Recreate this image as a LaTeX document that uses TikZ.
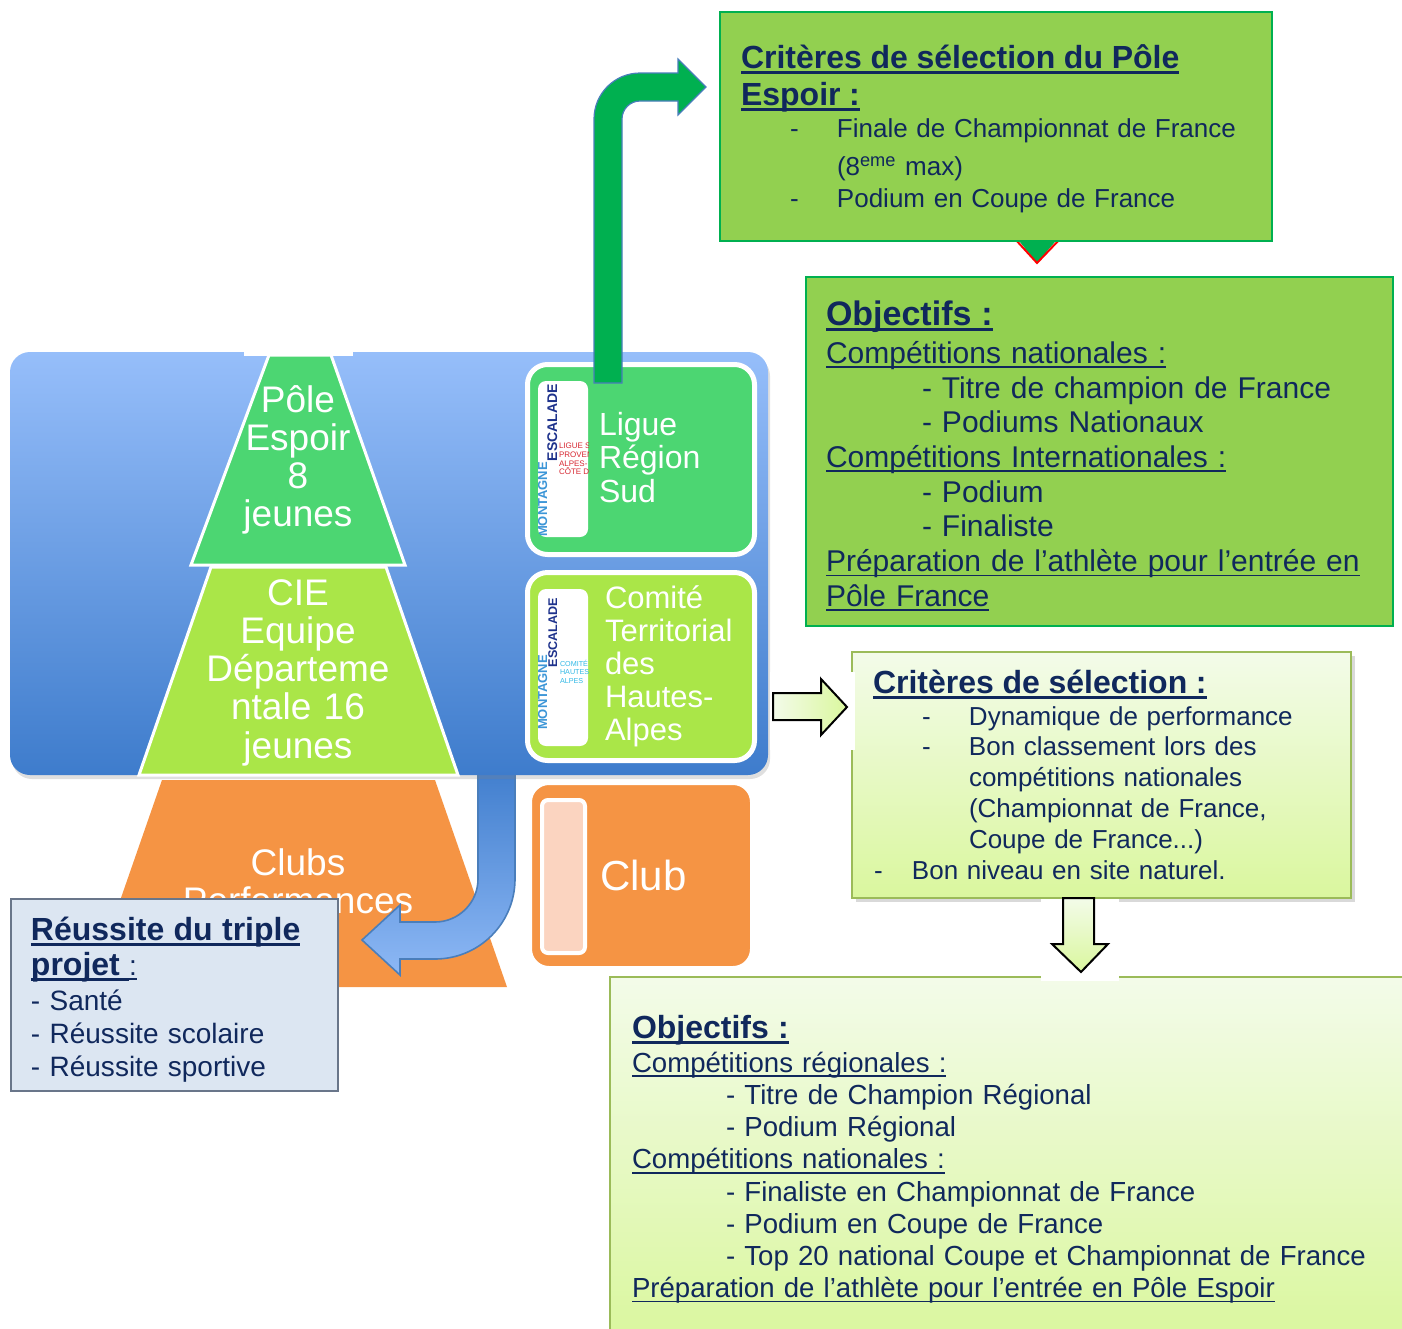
\documentclass[tikz,border=0pt]{standalone}
\usepackage{fontspec}
\setmainfont{Liberation Sans}
\usetikzlibrary{positioning,shadows}

\definecolor{navy}{RGB}{16,40,92}
\definecolor{espoirgreen}{RGB}{76,214,114}
\definecolor{ciegreen}{RGB}{170,230,72}
\definecolor{cluborange}{RGB}{245,148,68}
\definecolor{clubpale}{RGB}{251,212,192}
\definecolor{polegreen}{RGB}{146,208,80}
\definecolor{darkgreen}{RGB}{0,176,80}
\definecolor{oliveline}{RGB}{155,187,89}
\definecolor{palegreen}{RGB}{243,251,233}
\definecolor{limegreen}{RGB}{218,247,158}
\definecolor{skytop}{RGB}{150,190,250}
\definecolor{skybottom}{RGB}{62,124,204}
\definecolor{skylight}{RGB}{141,184,245}
\definecolor{arrowline}{RGB}{74,126,187}
\definecolor{greyblue}{RGB}{220,230,242}
\definecolor{slate}{RGB}{105,118,138}
\definecolor{escblue}{RGB}{30,50,140}
\definecolor{montblue}{RGB}{60,150,215}
\definecolor{liguered}{RGB}{215,40,50}
\definecolor{comitecyan}{RGB}{50,185,230}

\newsavebox{\ulsave}
\newcommand{\ulbox}[3]{\leavevmode\sbox{\ulsave}{#3}\rlap{\rule[-#1]{\wd\ulsave}{#2}}\usebox{\ulsave}}
\newcommand{\ulhead}[1]{\ulbox{3.2pt}{1.5pt}{#1}}
\newcommand{\ulline}[1]{\ulbox{2.4pt}{0.9pt}{#1}}
\newcommand{\tiret}[2]{\hspace*{#1}\makebox[#2][l]{-}}
\newcommand{\headfont}[1]{\fontsize{#1}{#1}\selectfont\bfseries}
\lineskiplimit=-20pt

\begin{document}
\begin{tikzpicture}[x=0.5pt, y=-0.5pt,
    every node/.style={inner sep=0pt, outer sep=0pt},
    fedbox/.style={anchor=north west, rounded corners=10pt, top color=skytop,
        bottom color=skybottom, drop shadow={opacity=0.25, shadow xshift=1pt, shadow yshift=-2pt}},
    pyrtxt/.style={text=white, font=\fontsize{18.5}{19.15}\selectfont, text width=130pt,
        align=center, anchor=base},
    orgbox/.style={anchor=north west, draw=white, line width=2.5pt, rounded corners=10pt,
        minimum width=113.5pt},
    orgtxt/.style={text=white, text width=80pt, align=left, anchor=base west},
    logo/.style={anchor=north west, fill=white, rounded corners=4pt, minimum width=25pt},
    polebox/.style={anchor=north west, draw=darkgreen, line width=1pt, fill=polegreen},
    selbox/.style={anchor=north west, draw=oliveline, line width=1pt, top color=palegreen,
        bottom color=limegreen, drop shadow={opacity=0.3, shadow xshift=2pt, shadow yshift=-2pt}},
    boxtxt/.style={text=navy, text width=330pt, align=left, anchor=base west},
    hollow/.style={draw=black, line width=1pt}]

    \useasboundingbox (0,0) rectangle (1402,1328);

    % clubs, foot of the pyramid
    \fill[cluborange] (162,780) -- (435,780) -- (507,987) -- (90,987) -- cycle;
    \node[pyrtxt] (clubsPerf) at (298,875) {Clubs\\Performances};

    % arrow down to the triple project
    \draw[arrowline, line width=0.8pt, top color=skybottom, bottom color=skylight]
        (478,760) -- (478,879) .. controls (478,902.7) and (458.7,922) .. (435,922)
        -- (400,922) -- (400,905) -- (362,940) -- (400,975) -- (400,959) -- (435,959)
        .. controls (479.2,959) and (515,923.2) .. (515,879) -- (515,760) -- cycle;

    % federal block
    \node[fedbox, minimum width=379pt, minimum height=211.5pt] (fed) at (10,352) {};
    \fill[white] (244,350) rectangle (353,356);

    \draw[white, line width=1.5pt, fill=espoirgreen] (269,355) -- (331,355) -- (405,565) -- (191,565) -- cycle;
    \draw[white, line width=1.5pt, fill=ciegreen] (211,567) -- (386,567) -- (458,775) -- (139,775) -- cycle;
    \node[pyrtxt] (espoir) at (298,412) {Pôle\\Espoir\\8\\jeunes};
    \node[pyrtxt] (cie) at (298,605) {CIE\\Equipe\\Départeme\\ntale 16\\jeunes};

    % structures
    \node[orgbox, fill=espoirgreen, minimum height=95pt] (ligue) at (527.5,364.5) {};
    \node[orgbox, fill=ciegreen, minimum height=94pt] (comite) at (527.5,572.5) {};
    \node[orgbox, fill=cluborange, line width=1pt, minimum width=110pt, minimum height=91.5pt,
        rounded corners=9pt] (club) at (531,784) {};

    \node[logo, minimum height=78pt] (ligueLogo) at (538,381) {};
    \begin{scope}
        \clip[rounded corners=4pt] (ligueLogo.north west) rectangle (ligueLogo.south east);
        \node[rotate=90, anchor=base east, text=escblue, font=\headfont{7}] (ligueEsc) at (557,384) {ESCALADE};
        \node[rotate=90, anchor=base east, text=montblue, font=\headfont{6.5}] (ligueMont) at (547,462) {MONTAGNE};
        \node[anchor=north west, text=liguered, align=left, font=\fontsize{4}{4.4}\selectfont]
            (ligueName) at (559,443) {LIGUE SU\\PROVEN\\ALPES-\\CÔTE D’};
    \end{scope}

    \node[logo, minimum height=78.5pt] (comiteLogo) at (538,589) {};
    \begin{scope}
        \clip[rounded corners=4pt] (comiteLogo.north west) rectangle (comiteLogo.south east);
        \node[rotate=90, anchor=base east, text=escblue, font=\headfont{6.3}] (comiteEsc) at (557,598) {ESCALADE};
        \node[rotate=90, anchor=base east, text=montblue, font=\headfont{6.5}] (comiteMont) at (547,655) {MONTAGNE};
        \node[anchor=north west, text=comitecyan, align=left, font=\fontsize{3.6}{4.2}\selectfont]
            (comiteName) at (560,660) {COMITÉ\\HAUTES\\ALPES};
    \end{scope}

    \node[anchor=north west, draw=white, line width=2pt, fill=clubpale, rounded corners=3pt,
        minimum width=21.5pt, minimum height=76.5pt] (clubLogo) at (542,800) {};

    \node[orgtxt, font=\fontsize{16}{16.75}\selectfont] (ligueTxt) at (599,435) {Ligue\\Région\\Sud};
    \node[orgtxt, font=\fontsize{15.5}{16.5}\selectfont] (comiteTxt) at (605,608)
        {Comité\\Territorial\\des\\Hautes-\\Alpes};
    \node[orgtxt, font=\fontsize{21}{21}\selectfont] (clubTxt) at (600,890) {Club};

    % arrow up to the Pole Espoir criteria
    \draw[arrowline, line width=0.6pt, fill=darkgreen]
        (594,383) -- (594,119) .. controls (594,93.6) and (614.6,73) .. (640,73)
        -- (678,73) -- (678,59) -- (706,87) -- (678,115) -- (678,101) -- (640,101)
        .. controls (630.1,101) and (622,109.1) .. (622,119) -- (622,383) -- cycle;

    % Pole Espoir
    \fill[darkgreen] (1015,236) -- (1060,236) -- (1037,263) -- cycle;
    \draw[red, line width=1pt] (1015,239) -- (1037,263) -- (1060,239);
    \node[polebox, minimum width=276pt, minimum height=114.5pt] (critPole) at (720,12) {};
    \node[boxtxt, font=\fontsize{13}{16}\selectfont] (critPoleTxt) at (741,68) {%
        {\headfont{16}\ulhead{Critères de sélection du Pôle}}\\[2.5pt]
        {\headfont{16}\ulhead{Espoir :}}\\
        \tiret{24.5pt}{23.5pt}Finale de Championnat de France\\[3pt]
        \hspace*{48pt}(8\textsuperscript{eme} max)\\
        \tiret{24.5pt}{23.5pt}Podium en Coupe de France};

    \node[polebox, minimum width=293.5pt, minimum height=174.5pt] (objPole) at (806,277) {};
    \node[boxtxt, font=\fontsize{15}{17.35}\selectfont] (objPoleTxt) at (826,325) {%
        {\headfont{17}\ulhead{Objectifs :}}\\[1.8pt]
        \ulline{Compétitions nationales :}\\
        \hspace*{48pt}- Titre de champion de France\\
        \hspace*{48pt}- Podiums Nationaux\\
        \ulline{Compétitions Internationales :}\\
        \hspace*{48pt}- Podium\\
        \hspace*{48pt}- Finaliste\\
        \ulline{Préparation de l’athlète pour l’entrée en}\\
        \ulline{Pôle France}};

    % regional selection
    \node[selbox, minimum width=249.5pt, minimum height=123pt] (critSel) at (852,652) {};
    \node[boxtxt, font=\fontsize{13}{15.4}\selectfont] (critSelTxt) at (873,693) {%
        {\headfont{16}\ulhead{Critères de sélection :}}\\[0.6pt]
        \tiret{24.5pt}{23.5pt}Dynamique de performance\\
        \tiret{24.5pt}{23.5pt}Bon classement lors des\\
        \hspace*{48pt}compétitions nationales\\
        \hspace*{48pt}(Championnat de France,\\
        \hspace*{48pt}Coupe de France...)\\
        \tiret{0.5pt}{19pt}Bon niveau en site naturel.};

    \node[selbox, minimum width=400pt, minimum height=182pt] (objReg) at (610,977) {};
    \node[boxtxt, text width=380pt, font=\fontsize{13.8}{16.1}\selectfont] (objRegTxt) at (632,1038) {%
        {\headfont{16}\ulhead{Objectifs :}}\\[1pt]
        \ulline{Compétitions régionales :}\\
        \hspace*{47pt}- Titre de Champion Régional\\
        \hspace*{47pt}- Podium Régional\\
        \ulline{Compétitions nationales :}\\
        \hspace*{47pt}- Finaliste en Championnat de France\\
        \hspace*{47pt}- Podium en Coupe de France\\
        \hspace*{47pt}- Top 20 national Coupe et Championnat de France\\
        \ulline{Préparation de l’athlète pour l’entrée en Pôle Espoir}};

    % hollow arrows
    \fill[white] (770,672) rectangle (855,750);
    \draw[hollow, left color=palegreen, right color=limegreen]
        (773,693) -- (821,693) -- (821,679) -- (847,707) -- (821,735) -- (821,720) -- (773,720) -- cycle;
    \fill[white] (1041,899) rectangle (1119,981);
    \draw[hollow, top color=palegreen, bottom color=limegreen]
        (1063,898) -- (1094,898) -- (1094,944) -- (1108,944) -- (1081,972) -- (1052,944) -- (1063,944) -- cycle;

    % triple project
    \node[anchor=north west, draw=slate, line width=1pt, fill=greyblue, minimum width=163.5pt,
        minimum height=96pt] (reussite) at (11,899) {};
    \node[boxtxt, font=\fontsize{14}{16.5}\selectfont] (reussiteTxt) at (31,940) {%
        {\headfont{16}\ulhead{Réussite du triple}}\\[1pt]
        {\headfont{16}\ulhead{projet }}\ulline{:}\\[1pt]
        - Santé\\
        - Réussite scolaire\\
        - Réussite sportive};
\end{tikzpicture}
\end{document}
